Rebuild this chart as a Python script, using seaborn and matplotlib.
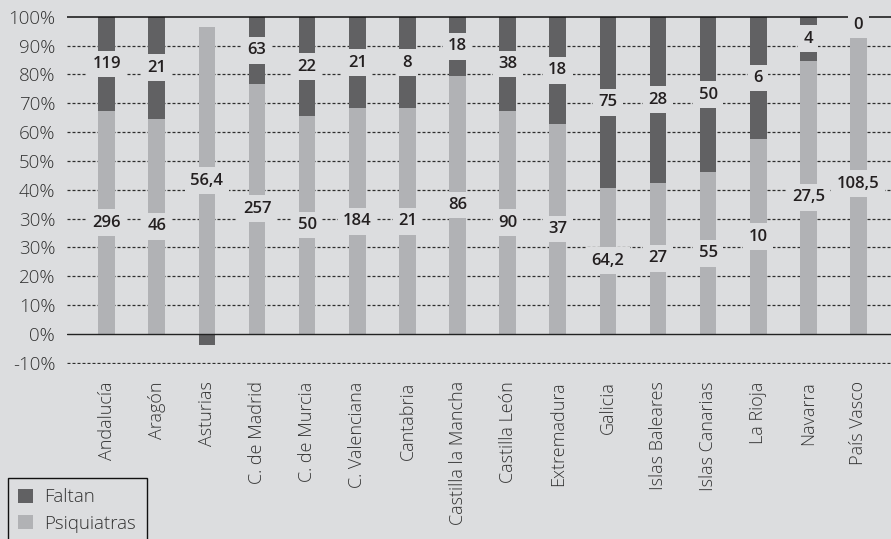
import matplotlib
matplotlib.use("Agg")
import matplotlib.pyplot as plt
from matplotlib.patches import Patch
import seaborn as sns
import numpy as np

# ---- data ----
regions = ["Andalucía", "Aragón", "Asturias", "C. de Madrid", "C. de Murcia",
           "C. Valenciana", "Cantabria", "Castilla la Mancha", "Castilla León",
           "Extremadura", "Galicia", "Islas Baleares", "Islas Canarias",
           "La Rioja", "Navarra", "País Vasco"]
# share of the 100% stack (percent)
psiq_share = [70.2, 67.9, 96.6, 78.9, 68.6, 71.1, 71.1, 81.4, 70.2, 66.1,
              46.1, 47.7, 50.9, 61.4, 86.1, 94.7]
falt_share = [29.8, 32.1, -3.5, 21.1, 31.4, 28.9, 28.9, 18.6, 29.8, 33.9,
              53.9, 52.3, 49.1, 38.6, 13.9, 0.0]
# data labels (absolute numbers)
psiq_labels = ["296", "46", "56,4", "257", "50", "184", "21", "86", "90", "37",
               "64,2", "27", "55", "10", "27,5", "108,5"]
falt_labels = ["119", "21", "", "63", "22", "21", "8", "18", "38", "18",
               "75", "28", "50", "6", "4", "0"]
ytick_vals = [-10, 0, 10, 20, 30, 30, 40, 50, 60, 70, 80, 90, 100]
ytick_labels = [f"{v}%" for v in ytick_vals]

# ---- style ----
BG = "#dcdddf"
LIGHT = "#b1b2b5"
DARK = "#616163"
TXT = "#231f20"
FONT = ["Open Sans", "DejaVu Sans"]

sns.set_theme(style="white")
plt.rcParams["font.family"] = FONT

fig = plt.figure(figsize=(8.91, 5.39), dpi=100, facecolor=BG)
ax = fig.add_axes([67 / 891, 1 - 364 / 539, 1 - 67 / 891, (364 - 15.7) / 539])
ax.set_facecolor(BG)

n = len(regions)
ylo = -100 / 11
tick_pos = [k * 100 / 11 for k in range(-1, 12)]
unit = 100 / 11 / 28.8  # data units per pixel

# dark = total stack (or negative faltan), light drawn over it
dark_total = [p + f if f >= 0 else f for p, f in zip(psiq_share, falt_share)]
sns.barplot(x=regions, y=dark_total, color=DARK, saturation=1, width=0.333,
            errorbar=None, ax=ax, zorder=1, linewidth=0)
sns.barplot(x=regions, y=psiq_share, color=LIGHT, saturation=1, width=0.333,
            errorbar=None, ax=ax, zorder=1.1, linewidth=0)

# grid lines
for k, yp in enumerate(tick_pos):
    if k == 1:
        ax.axhline(yp, color="#222222", lw=1.0, zorder=2)
    elif k == len(tick_pos) - 1:
        ax.axhline(yp, color="#111111", lw=1.1, zorder=2)
    else:
        ax.axhline(yp, color="#2e2e2e", lw=0.9, ls=(0, (2.4, 1.6)), zorder=0.5)

# data labels
box = dict(boxstyle="square,pad=0.32", fc=BG, ec="none")
for i in range(n):
    p = psiq_share[i]
    ax.text(i, p / 2, psiq_labels[i], ha="center", va="center", fontsize=12,
            fontweight="semibold", color=TXT, bbox=box, zorder=4)
    if falt_labels[i]:
        ax.text(i, p + (100 - p) / 2, falt_labels[i], ha="center", va="center",
                fontsize=12, fontweight="semibold", color=TXT, bbox=box, zorder=4)

ax.set_xlim(-0.792, 15.65)
ax.set_ylim(ylo - 1.2 * unit, 100 + 1.0 * unit)
ax.set_yticks(tick_pos)
ax.set_yticklabels(ytick_labels, fontsize=13.5, fontweight="light", color="#333333")
ax.set_xticks(range(n))
ax.set_xticklabels(regions, rotation=90, fontsize=13, fontweight="light",
                   color="#333333", va="top", ha="center")
ax.tick_params(axis="y", length=0, pad=8.5)
ax.tick_params(axis="x", length=0, pad=12.5)
ax.set_xlabel("")
ax.set_ylabel("")
for s in ax.spines.values():
    s.set_visible(False)

handles = [Patch(facecolor=DARK, edgecolor="none", label="Faltan"),
           Patch(facecolor=LIGHT, edgecolor="none", label="Psiquiatras")]
leg = fig.legend(handles=handles, loc="upper left",
                 bbox_to_anchor=(8 / 891, 1 - 478 / 539), frameon=True,
                 fancybox=False, framealpha=1, facecolor=BG, edgecolor="#111111",
                 prop={"family": FONT, "size": 13.5, "weight": "light"},
                 handlelength=0.8, handleheight=0.8, labelspacing=0.45,
                 borderpad=0.55, handletextpad=0.6, borderaxespad=0)
leg.get_frame().set_linewidth(1.0)
for t in leg.get_texts():
    t.set_color("#333333")

fig.savefig("out.png", dpi=100, facecolor=BG)
